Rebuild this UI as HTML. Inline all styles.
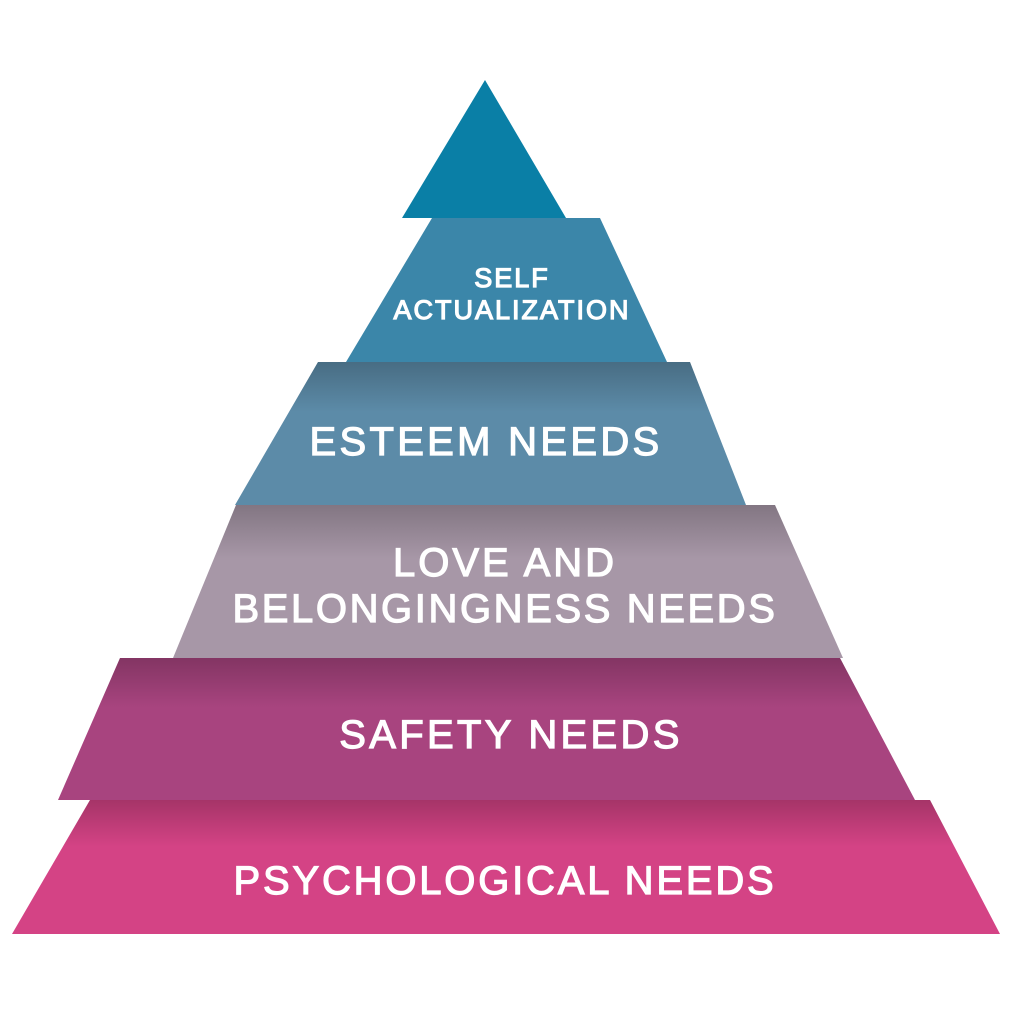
<!DOCTYPE html>
<html><head><style>
html,body{margin:0;padding:0;background:#fff;}
svg{display:block;}
text{font-family:"Liberation Sans",Arial,sans-serif;fill:#fff;text-anchor:middle;}
</style></head><body>
<svg width="1024" height="1024" viewBox="0 0 1024 1024" xmlns="http://www.w3.org/2000/svg">
<defs>
<linearGradient id="sh" x1="0" y1="0" x2="0" y2="1">
<stop offset="0" stop-color="#000" stop-opacity="0.22"/>
<stop offset="0.35" stop-color="#000" stop-opacity="0"/>
</linearGradient>
</defs>
<polygon points="485,80 566,218 402,218" fill="#0a7fa6"/>
<polygon points="432,218 600,218 667,362 346,362" fill="#3b86a9"/>
<polygon points="318,362 690,362 746,505 235,505" fill="#5c8ba8"/>
<polygon points="318,362 690,362 746,505 235,505" fill="url(#sh)"/>
<polygon points="236,505 775,505 843,658 173,658" fill="#a797a7"/>
<polygon points="236,505 775,505 843,658 173,658" fill="url(#sh)"/>
<polygon points="120,658 840,658 915,800 58,800" fill="#a8447f"/>
<polygon points="120,658 840,658 915,800 58,800" fill="url(#sh)"/>
<polygon points="90,800 930,800 1000,934 12,934" fill="#d44385"/>
<polygon points="90,800 930,800 1000,934 12,934" fill="url(#sh)"/>
<g stroke="#fff" stroke-width="1.2">
<text x="512" y="287" font-size="27" letter-spacing="2">SELF</text>
<text x="512" y="319" font-size="27" letter-spacing="2">ACTUALIZATION</text>
<text x="486" y="455" font-size="40" letter-spacing="3.3">ESTEEM NEEDS</text>
<text x="505" y="576" font-size="40" letter-spacing="3">LOVE AND</text>
<text x="505" y="622" font-size="40" letter-spacing="2.6">BELONGINGNESS NEEDS</text>
<text x="511" y="748" font-size="40" letter-spacing="3.3">SAFETY NEEDS</text>
<text x="505" y="894" font-size="40" letter-spacing="2.8">PSYCHOLOGICAL NEEDS</text>
</g>
</svg>
</body></html>
